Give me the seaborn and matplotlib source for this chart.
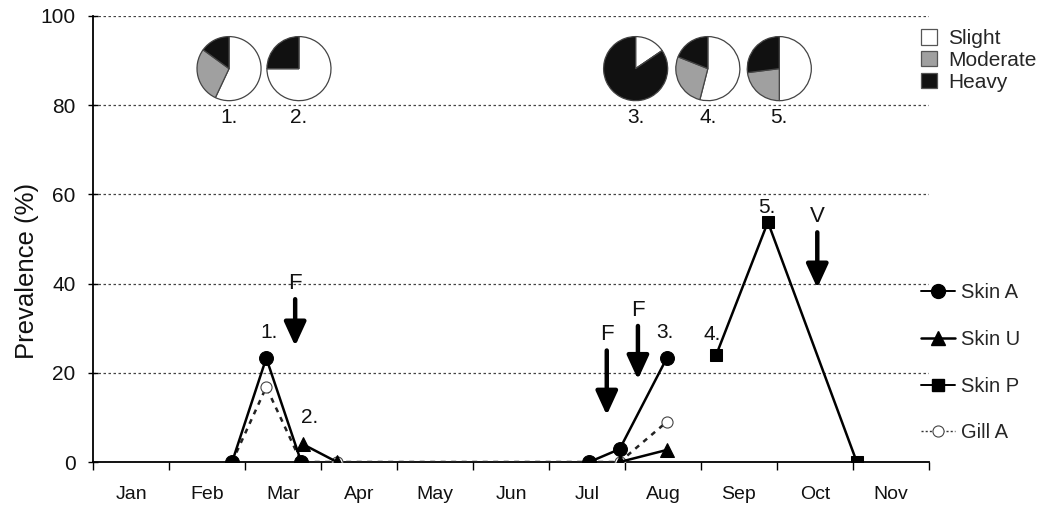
import numpy as np
import pandas as pd
import matplotlib
matplotlib.use('Agg')
import matplotlib.pyplot as plt
import seaborn as sns
from matplotlib.lines import Line2D
from matplotlib.patches import Patch

sns.set_theme(style='white')
plt.rcParams['font.family'] = ['Liberation Sans', 'DejaVu Sans']

# month axis: 0 = start of Jan, 1 = start of Feb, ...
months = ['Jan', 'Feb', 'Mar', 'Apr', 'May', 'Jun', 'Jul', 'Aug', 'Sep', 'Oct', 'Nov']

# series values (x in month units, y prevalence %), seg splits unconnected parts
skin_a_x = [1.83, 2.28, 2.74, 6.53, 6.93, 7.55]
skin_a_y = [0, 23.3, 0, 0, 2.9, 23.3]
skin_a_seg = [0, 0, 0, 1, 1, 1]

skin_u_x = [2.76, 3.21, 6.93, 7.55]
skin_u_y = [4.0, 0, 0, 2.7]
skin_u_seg = [0, 0, 1, 1]

skin_p_x = [8.20, 8.88, 10.05]
skin_p_y = [24.0, 53.8, 0]
skin_p_seg = [0, 0, 0]

gill_a_x = [1.83, 2.28, 2.74, 3.21, 6.53, 6.93, 7.55]
gill_a_y = [0, 16.8, 0, 0, 0, 0, 9.0]
gill_a_seg = [0, 0, 0, 0, 0, 0, 0]

# numbered sampling points
point_labels = ['1.', '2.', '3.', '4.', '5.']
point_label_x = [2.32, 2.85, 7.53, 8.15, 8.87]
point_label_y = [29.0, 10.0, 29.0, 28.5, 57.0]

# treatment arrows: F = formalin, V = vaccine (x, top, tip)
arrow_text = ['F', 'F', 'F', 'V']
arrow_x = [2.66, 6.76, 7.17, 9.53]
arrow_top = [36.5, 25.0, 30.5, 51.5]
arrow_tip = [26.0, 10.5, 18.5, 39.0]

# infection intensity pies: slight, moderate, heavy
pie_month = [1.79, 2.71, 7.14, 8.09, 9.03]
pie_values = [
    [57, 28, 15],
    [75, 0, 25],
    [15.5, 0, 84.5],
    [54, 27, 19],
    [50, 23, 27],
]
pie_center_y = 88.2
pie_label_y = 77.2
pie_colors = ['white', '#a0a0a0', '#111111']
pie_names = ['Slight', 'Moderate', 'Heavy']

W, H = 1041, 507
fig = plt.figure(figsize=(W / 100, H / 100), dpi=100)
ax = fig.add_axes([93 / W, 1 - 462 / H, (929 - 93) / W, (462 - 16) / H])

gill = pd.DataFrame({'month': gill_a_x, 'prev': gill_a_y, 'seg': gill_a_seg})
sns.lineplot(data=gill, x='month', y='prev', units='seg', estimator=None, sort=False, ax=ax,
             color='#222222', linewidth=1.8, linestyle=(0, (2.0, 2.2)), marker='o', markersize=8,
             markerfacecolor='white', markeredgecolor='#444444', markeredgewidth=0.8, zorder=3)

series = [
    ('Skin A', skin_a_x, skin_a_y, skin_a_seg, dict(marker='o', markersize=10, color='black',
                                                   linewidth=1.8, markeredgecolor='black')),
    ('Skin U', skin_u_x, skin_u_y, skin_u_seg, dict(marker='^', markersize=10, color='black',
                                                   linewidth=1.8, markeredgecolor='black')),
    ('Skin P', skin_p_x, skin_p_y, skin_p_seg, dict(marker='s', markersize=9, color='black',
                                                   linewidth=1.8, markeredgecolor='black')),
]
for name, xs, ys, seg, kw in series:
    df = pd.DataFrame({'month': xs, 'prev': ys, 'seg': seg})
    sns.lineplot(data=df, x='month', y='prev', units='seg', estimator=None, sort=False,
                 ax=ax, zorder=4, **kw)

ax.set_xlim(0, 11)
ax.set_ylim(0, 100)
ax.set_yticks([0, 20, 40, 60, 80, 100])
ax.set_xticks(np.arange(0, 12))
ax.set_xticklabels([])
ax.set_xticks(np.arange(len(months)) + 0.5, minor=True)
ax.set_xticklabels(months, minor=True, fontsize=14)
ax.tick_params(axis='x', which='minor', length=0, pad=17)
ax.tick_params(axis='x', which='major', direction='out', length=6, width=1, color='black', bottom=True)
ax.tick_params(axis='y', direction='inout', length=7, width=1, color='black', left=True,
               labelsize=15, pad=9)
for tl in ax.get_yticklabels():
    tl.set_color('#111111')
for tl in ax.get_xticklabels(minor=True):
    tl.set_color('#111111')
ax.set_xlabel('')
ax.set_ylabel('Prevalence (%)', fontsize=18.5, color='#111111')
ax.yaxis.set_label_coords(-0.065, 0.428)
ax.yaxis.grid(True, linestyle=(0, (2, 2)), color='#444444', linewidth=0.9)
ax.xaxis.grid(False)
for s in ['top', 'right']:
    ax.spines[s].set_visible(False)
for s in ['left', 'bottom']:
    ax.spines[s].set_color('black')
    ax.spines[s].set_linewidth(1.3)

for lab, lx, ly in zip(point_labels, point_label_x, point_label_y):
    ax.text(lx, ly, lab, fontsize=15, ha='center', va='center', color='#111111')

for t, x, top, tip in zip(arrow_text, arrow_x, arrow_top, arrow_tip):
    ax.annotate('', xy=(x, tip), xytext=(x, top),
                arrowprops=dict(arrowstyle='-|>,head_length=1.2,head_width=0.55', lw=3.2,
                                color='black', shrinkA=0, shrinkB=0))
    ax.text(x, top + 3.5, t, fontsize=16, ha='center', va='center', color='#111111')

# pies placed above the axes using the data transform
fig.canvas.draw()
r_px = 33
for i, (m, vals) in enumerate(zip(pie_month, pie_values)):
    cx, cy = ax.transData.transform((m, pie_center_y))
    pax = fig.add_axes([(cx - r_px) / W, (cy - r_px) / H, 2 * r_px / W, 2 * r_px / H])
    pax.pie(vals, colors=pie_colors, startangle=90, counterclock=False,
            wedgeprops=dict(edgecolor='#444444', linewidth=0.9))
    pax.set_xlim(-1.03, 1.03)
    pax.set_ylim(-1.03, 1.03)
    pax.axis('off')
    ax.text(m, pie_label_y, point_labels[i], fontsize=15, ha='center', va='center', color='#111111')

pie_handles = [Patch(facecolor=c, edgecolor='#555555', linewidth=0.9) for c in pie_colors]
fig.legend(pie_handles, pie_names, loc='upper left', bbox_to_anchor=(921 / W, 1 - 29 / H),
           frameon=False, fontsize=15, handlelength=0.77, handleheight=0.77, handletextpad=0.55,
           labelspacing=0.14, borderpad=0, borderaxespad=0)

line_handles = [
    Line2D([], [], color='black', marker='o', markersize=10, linewidth=1.4),
    Line2D([], [], color='black', marker='^', markersize=10, linewidth=1.8),
    Line2D([], [], color='black', marker='s', markersize=9, linewidth=1.4),
    Line2D([], [], color='#333333', marker='o', markersize=8, linewidth=1.0, linestyle=(0, (1.5, 1.5)),
           markerfacecolor='white', markeredgecolor='#444444', markeredgewidth=0.8),
]
fig.legend(line_handles, ['Skin A', 'Skin U', 'Skin P', 'Gill A'], loc='upper left',
           bbox_to_anchor=(921 / W, 1 - 283 / H), frameon=False, fontsize=14.5, handlelength=1.7,
           handletextpad=0.3, labelspacing=1.38, borderpad=0, borderaxespad=0)

fig.savefig('out.png', dpi=100, facecolor='white')
